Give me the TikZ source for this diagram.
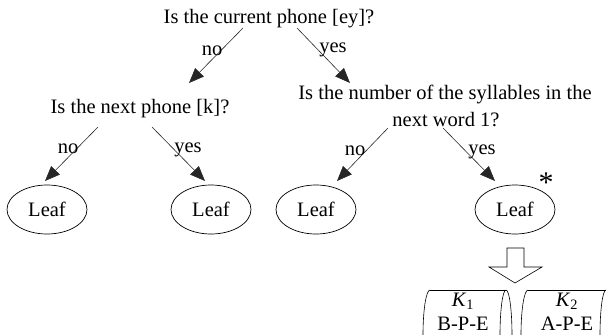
\documentclass[tikz,border=0pt]{standalone}
\usepackage{fontspec}
\setmainfont{Liberation Serif}
\usetikzlibrary{arrows.meta,shapes.geometric}
\begin{document}
\begin{tikzpicture}[x=1pt,y=-1pt,
  every node/.style={font=\fontsize{20.5}{27}\selectfont, inner sep=0pt},
  txt/.style={anchor=base},
  leaf/.style={ellipse, draw, line width=0.7pt, minimum width=80pt, minimum height=49pt},
  edge/.style={line width=0.6pt, draw=black!85, -{Triangle[length=15pt,width=12pt]}},
  thin/.style={line width=0.6pt}]
\useasboundingbox (0,0) rectangle (606,335);
\clip (0,0) rectangle (606,335);

% questions
\node[txt] (root) at (269,23) {Is the current phone [ey]?};
\node[txt] (ql) at (140,113) {Is the next phone [k]?};
\node[txt] (qr1) at (445,99) {Is the number of the syllables in the};
\node[txt] (qr2) at (446,126) {next word 1?};

% leaves
\node[leaf] (l1) at (47,209.5) {Leaf};
\node[leaf] (l2) at (211,209.5) {Leaf};
\node[leaf] (l3) at (316,209.5) {Leaf};
\node[leaf] (l4) at (515,209.5) {Leaf};
\node (star) at (546,183) {\fontsize{30}{30}\selectfont *};

% connector end points
\coordinate (r-no-s) at (243,28);  \coordinate (r-no-e) at (189,83);
\coordinate (r-yes-s) at (297,28); \coordinate (r-yes-e) at (350,83);
\coordinate (l-no-s) at (98,127);  \coordinate (l-no-e) at (45,181);
\coordinate (l-yes-s) at (152,127);\coordinate (l-yes-e) at (205,181);
\coordinate (q-no-s) at (388,128); \coordinate (q-no-e) at (337,181);
\coordinate (q-yes-s) at (443,128);\coordinate (q-yes-e) at (495,181);

\draw[edge] (r-no-s) -- (r-no-e);
\draw[edge] (r-yes-s) -- (r-yes-e);
\draw[edge] (l-no-s) -- (l-no-e);
\draw[edge] (l-yes-s) -- (l-yes-e);
\draw[edge] (q-no-s) -- (q-no-e);
\draw[edge] (q-yes-s) -- (q-yes-e);

% edge labels
\node[txt] (t1) at (212,55) {no};
\node[txt] (t2) at (333,52) {yes};
\node[txt] (t3) at (68,153) {no};
\node[txt] (t4) at (188,152) {yes};
\node[txt] (t5) at (355,155) {no};
\node[txt] (t6) at (482,154) {yes};

% hollow arrow
\draw[thin, line join=miter] (507,248) -- (524,248) -- (524,267) -- (542,267) -- (515,283)
  -- (489,267) -- (507,267) -- cycle;

% cylinders
\draw[thin] (430,290) -- (506,290);
\draw[thin] (430,290) arc[start angle=-90, end angle=-270, x radius=7, y radius=45];
\draw[thin] (506,335) ellipse[x radius=6, y radius=45];
\draw[thin] (528,290) -- (606,290);
\draw[thin] (528,290) arc[start angle=-90, end angle=-270, x radius=7, y radius=45];
\draw[thin] (606,335) ellipse[x radius=6, y radius=45];

\node[txt] (k1) at (463,306) {\textit{K}\textsubscript{1}};
\node[txt] (b1) at (463,330.5) {B-P-E};
\node[txt] (k2) at (567,306) {\textit{K}\textsubscript{2}};
\node[txt] (b2) at (567,330.5) {A-P-E};
\end{tikzpicture}
\end{document}
